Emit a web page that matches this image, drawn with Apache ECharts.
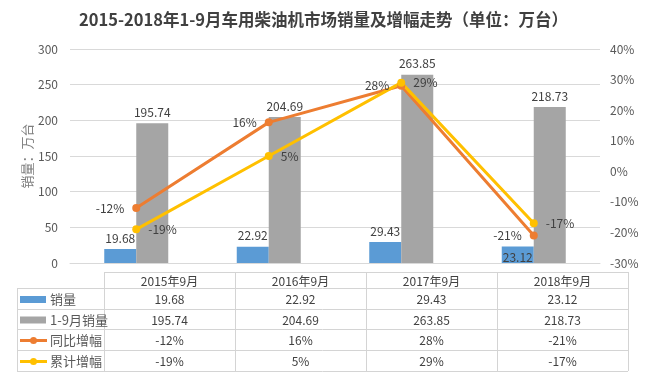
<!DOCTYPE html>
<html><head><meta charset="utf-8">
<script src="https://cdn.jsdelivr.net/npm/echarts@6/dist/echarts.min.js"></script>
<style>html,body{margin:0;padding:0;background:#fff}#c{width:647px;height:391px}</style>
</head><body><div id="c"></div>
<script>
const categories = ['2015年9月','2016年9月','2017年9月','2018年9月'];
const sales = [19.68, 22.92, 29.43, 23.12];
const cumSales = [195.74, 204.69, 263.85, 218.73];
const yoy = [-12, 16, 28, -21];
const cumYoy = [-19, 5, 29, -17];
const leftTicks = {min:0, max:300, interval:50};
const rightTicks = {min:-30, max:40, interval:10};

const C = {blue:'#5b9bd5', gray:'#a5a5a5', orange:'#ed7d31', yellow:'#ffc000'};
const FONT = '"Noto Sans CJK SC", "Noto Sans", sans-serif';
const txt = '#404040';

const chart = echarts.init(document.getElementById('c'));

// table
const series = [
  {name:'销量', type:'bar', color:C.blue, vals:sales.map(v=>v.toFixed(2))},
  {name:'1-9月销量', type:'bar', color:C.gray, vals:cumSales.map(v=>v.toFixed(2))},
  {name:'同比增幅', type:'line', color:C.orange, vals:yoy.map(v=>v+'%')},
  {name:'累计增幅', type:'line', color:C.yellow, vals:cumYoy.map(v=>v+'%')}
];
const T = {x0:17, x1:104, colW:131, rows:[272,288,309,329,350,371]};
const xEnd = T.x1 + T.colW*categories.length;
const border = '#d4d4d4';
const g = [];
g.push({type:'line', shape:{x1:T.x1,y1:T.rows[0]+0.5,x2:xEnd,y2:T.rows[0]+0.5}, style:{stroke:border,lineWidth:1}});
for(let r=1;r<T.rows.length;r++){
  g.push({type:'line', shape:{x1:T.x0,y1:T.rows[r]+0.5,x2:xEnd,y2:T.rows[r]+0.5}, style:{stroke:border,lineWidth:1}});
}
g.push({type:'line', shape:{x1:T.x0+0.5,y1:T.rows[1],x2:T.x0+0.5,y2:T.rows[5]}, style:{stroke:border,lineWidth:1}});
for(let c=0;c<=categories.length;c++){
  const x = T.x1 + c*T.colW + 0.5;
  g.push({type:'line', shape:{x1:x,y1:T.rows[0],x2:x,y2:T.rows[5]}, style:{stroke:border,lineWidth:1}});
}
categories.forEach((cat,i)=>{
  g.push({type:'text', x:T.x1+(i+0.5)*T.colW, y:(T.rows[0]+T.rows[1])/2+1,
    style:{text:cat, fill:txt, font:'12px '+FONT, align:'center', verticalAlign:'middle'}});
});
series.forEach((s,r)=>{
  const yc = (T.rows[r+1]+T.rows[r+2])/2+1;
  if(s.type==='bar'){
    g.push({type:'rect', shape:{x:20,y:yc-3.5,width:26,height:7}, style:{fill:s.color}});
  } else {
    g.push({type:'line', shape:{x1:20,y1:yc,x2:47,y2:yc}, style:{stroke:s.color,lineWidth:3}});
    g.push({type:'circle', shape:{cx:33.5,cy:yc,r:3.5}, style:{fill:s.color}});
  }
  g.push({type:'text', x:50, y:yc, style:{text:s.name, fill:'#595959', font:'13px '+FONT, align:'left', verticalAlign:'middle'}});
  s.vals.forEach((v,i)=>{
    g.push({type:'text', x:T.x1+(i+0.5)*T.colW, y:yc,
      style:{text:v, fill:txt, font:'12px '+FONT, align:'center', verticalAlign:'middle'}});
  });
});

const labelStyle = {color:txt, fontSize:12, fontFamily:FONT};
chart.setOption({
  animation:false,
  textStyle:{fontFamily:FONT},
  title:{text:'2015-2018年1-9月车用柴油机市场销量及增幅走势（单位：万台）', left:'center', top:6,
    textStyle:{fontSize:16.5, fontWeight:'bold', color:'#404040', fontFamily:FONT}},
  grid:{left:70, right:47, top:49, bottom:128},
  xAxis:{type:'category', data:categories, axisLabel:{show:false}, axisTick:{show:false},
    axisLine:{lineStyle:{color:'#d9d9d9'}}},
  yAxis:[
    {type:'value', min:leftTicks.min, max:leftTicks.max, interval:leftTicks.interval,
      name:'销量：万台', nameLocation:'middle', nameGap:36, nameRotate:90, nameMoveOverlap:false,
      nameTextStyle:{color:'#7f7f7f', fontSize:13, fontFamily:FONT},
      axisLabel:{color:'#595959', fontSize:12, margin:12},
      axisLine:{show:false}, axisTick:{show:false},
      splitLine:{lineStyle:{color:'#d9d9d9'}}},
    {type:'value', min:rightTicks.min, max:rightTicks.max, interval:rightTicks.interval,
      axisLabel:{color:'#595959', fontSize:12, formatter:'{value}%', margin:10},
      axisLine:{show:false}, axisTick:{show:false}, splitLine:{show:false}}
  ],
  series:[
    {name:'销量', type:'bar', data:sales.map((v,i)=> i===3 ? {value:v,label:{position:'insideTop'}} : v),
      itemStyle:{color:C.blue}, barWidth:32, barGap:'0%',
      label:{show:true, position:'top', ...labelStyle, formatter:p=>p.value.toFixed(2)}},
    {name:'1-9月销量', type:'bar', data:cumSales, itemStyle:{color:C.gray}, barWidth:32, barGap:'0%',
      label:{show:true, position:'top', ...labelStyle, formatter:p=>p.value.toFixed(2)}},
    {name:'同比增幅', type:'line', yAxisIndex:1, data:yoy, color:C.orange,
      lineStyle:{width:3, color:C.orange}, symbol:'circle', symbolSize:8, itemStyle:{color:C.orange},
      label:{show:true, position:'left', distance:8, ...labelStyle, formatter:'{c}%'}},
    {name:'累计增幅', type:'line', yAxisIndex:1, data:cumYoy, color:C.yellow,
      lineStyle:{width:3, color:C.yellow}, symbol:'circle', symbolSize:8, itemStyle:{color:C.yellow},
      label:{show:true, position:'right', distance:8, ...labelStyle, formatter:'{c}%'}}
  ],
  graphic:g
});
</script></body></html>
